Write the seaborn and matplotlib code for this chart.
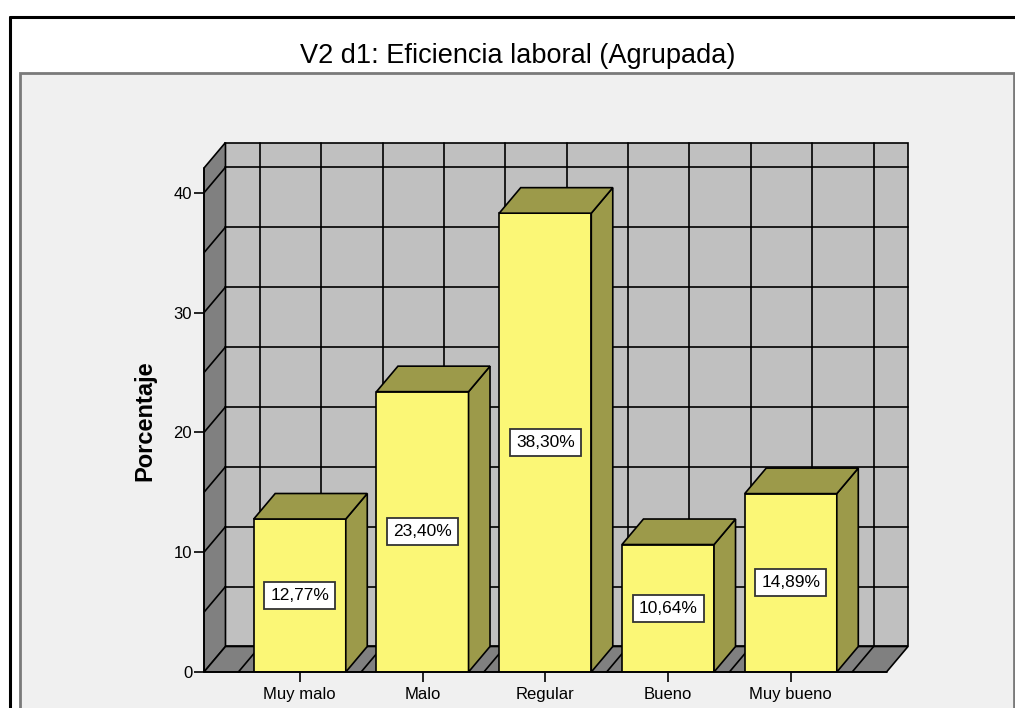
import matplotlib
matplotlib.use("Agg")
import matplotlib.pyplot as plt
import seaborn as sns
from matplotlib.patches import Polygon, Rectangle
from matplotlib.lines import Line2D

categories = ["Muy malo", "Malo", "Regular", "Bueno", "Muy bueno"]
percentages = [12.77, 23.40, 38.30, 10.64, 14.89]
y_ticks = [0, 10, 20, 30, 40]
title = "V2 d1: Eficiencia laboral (Agrupada)"
y_label = "Porcentaje"

FRONT = "#FBF776"
SHADE = "#9C9A4A"
WALL = "#808080"
BACK = "#C0C0C0"
PANEL = "#F0F0F0"

sns.set_style("white")
plt.rcParams["font.family"] = ["Liberation Sans", "DejaVu Sans"]
plt.rcParams["text.color"] = "black"
plt.rcParams["axes.labelcolor"] = "black"
plt.rcParams["xtick.color"] = "black"
plt.rcParams["ytick.color"] = "black"

W, H = 1015, 708
fig = plt.figure(figsize=(W / 100, H / 100), dpi=100)
fig.patch.set_facecolor("white")

# page frame and chart panel (pixel positions -> figure fraction)
fig.add_artist(Rectangle((20 / W, -0.01), (1014 - 20) / W, 1 - 73 / H + 0.01,
                         transform=fig.transFigure, facecolor=PANEL,
                         edgecolor="#7a7a7a", linewidth=2, zorder=0))
fig.add_artist(Line2D([9.5 / W, 9.5 / W], [0, 1 - 17 / H], transform=fig.transFigure,
                      color="black", linewidth=2.2))
fig.add_artist(Line2D([9.5 / W, 1.0], [1 - 17 / H, 1 - 17 / H], transform=fig.transFigure,
                      color="black", linewidth=2.2))
fig.text(518 / W, 1 - 63 / H, title, ha="center", va="baseline", fontsize=19.5)

ax = fig.add_axes([204 / W, 1 - 672 / H, 704 / W, 529.5 / H])
ax.set_facecolor("none")

sns.barplot(x=categories, y=percentages, color=FRONT, saturation=1, width=0.75,
            edgecolor="black", linewidth=1.2, ax=ax)
bars = list(ax.patches)

# depth of the 3-D box in data units
dx, dy = 0.175, 2.13
x0, x1 = -0.78, len(categories) - 1 + 0.78
ytop = 42.07
ax.set_xlim(x0, x1 + dx)
ax.set_ylim(0, ytop + dy)

lw = 1.2
# back wall, left wall, floor
ax.add_patch(Rectangle((x0 + dx, dy), x1 - x0, ytop, facecolor=BACK,
                       edgecolor="black", linewidth=lw, zorder=0.5, clip_on=False))
ax.add_patch(Polygon([(x0, 0), (x0 + dx, dy), (x0 + dx, ytop + dy), (x0, ytop)],
                     facecolor=WALL, edgecolor="black", linewidth=lw, zorder=0.6, clip_on=False))
ax.add_patch(Polygon([(x0, 0), (x1, 0), (x1 + dx, dy), (x0 + dx, dy)],
                     facecolor=WALL, edgecolor="black", linewidth=lw, zorder=0.6, clip_on=False))

# grid on the walls
for v in range(5, 45, 5):
    if v > ytop:
        break
    ax.plot([x0 + dx, x1 + dx], [v + dy, v + dy], color="black", lw=lw, zorder=0.7, clip_on=False)
    ax.plot([x0, x0 + dx], [v, v + dy], color="black", lw=lw, zorder=0.7, clip_on=False)
for k in range(-1, 2 * len(categories)):
    gx = k / 2
    ax.plot([gx + dx, gx + dx], [dy, ytop + dy], color="black", lw=lw, zorder=0.7, clip_on=False)
    ax.plot([gx, gx + dx], [0, dy], color="black", lw=lw, zorder=0.7, clip_on=False)

# extrude the bars drawn by seaborn
for bar, val in zip(bars, percentages):
    bx, bw, bh = bar.get_x(), bar.get_width(), bar.get_height()
    bar.set_zorder(3)
    ax.add_patch(Polygon([(bx + bw, 0), (bx + bw + dx, dy), (bx + bw + dx, bh + dy), (bx + bw, bh)],
                         facecolor=SHADE, edgecolor="black", linewidth=lw, zorder=3))
    ax.add_patch(Polygon([(bx, bh), (bx + bw, bh), (bx + bw + dx, bh + dy), (bx + dx, bh + dy)],
                         facecolor=SHADE, edgecolor="black", linewidth=lw, zorder=3))
    ax.text(bx + bw / 2, bh / 2, f"{val:.2f}".replace(".", ",") + "%", ha="center", va="center",
            fontsize=12.5, zorder=4,
            bbox=dict(boxstyle="square,pad=0.35", facecolor="white", edgecolor="#333333", linewidth=1.3))

# front edges of the box
ax.plot([x0, x1], [0, 0], color="black", lw=lw, zorder=5, clip_on=False)
ax.plot([x0, x0], [0, ytop], color="black", lw=lw, zorder=5, clip_on=False)

for s in ax.spines.values():
    s.set_visible(False)
ax.set_yticks(y_ticks)
ax.set_yticklabels([str(t) for t in y_ticks])
ax.tick_params(axis="y", left=True, length=7.5, width=1.2, pad=1, labelsize=12)
ax.tick_params(axis="x", bottom=True, length=7.5, width=1.2, pad=3, labelsize=12)
ax.set_xlabel("")
ax.set_ylabel(y_label, fontsize=17, fontweight="bold")
ax.yaxis.set_label_coords(-59 / 704, (672 - 421) / 529.5)
ax.yaxis.label.set_va("center")

fig.savefig("out.png", dpi=100)
